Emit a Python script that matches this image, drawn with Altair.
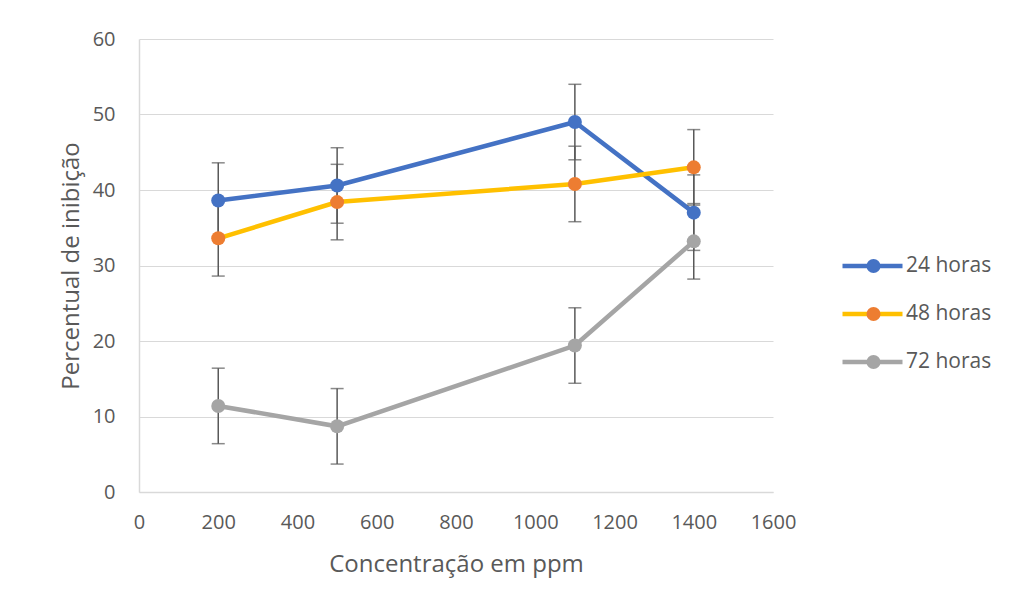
import altair as alt
import pandas as pd

conc = [200, 500, 1100, 1400]
series_names = ["24 horas", "48 horas", "72 horas"]
v24 = [38.6, 40.6, 49.0, 37.0]
v48 = [33.6, 38.4, 40.8, 43.0]
v72 = [11.4, 8.7, 19.4, 33.2]
e24 = [5, 5, 5, 5]
e48 = [5, 5, 5, 5]
e72 = [5, 5, 5, 5]
line_colors = ["#4472C4", "#FFC000", "#A5A5A5"]
marker_colors = ["#4472C4", "#ED7D31", "#A5A5A5"]

rows = []
for name, vals, errs in zip(series_names, [v24, v48, v72], [e24, e48, e72]):
    for c, v, e in zip(conc, vals, errs):
        rows.append({"conc": c, "serie": name, "val": v, "lo": v - e, "hi": v + e})
df = pd.DataFrame(rows)

FONT = "Open Sans"
TXT = "#595959"

x = alt.X("conc:Q", title="Concentração em ppm",
          scale=alt.Scale(domain=[0, 1600], nice=False),
          axis=alt.Axis(values=list(range(0, 1601, 200)), format="d", grid=False, ticks=False,
                        labelFlush=False, labelPadding=20, titlePadding=20,
                        domainColor="#d9d9d9", domainWidth=1.5))
y_axis = alt.Axis(values=list(range(0, 61, 10)), format="d", grid=True, gridColor="#d9d9d9", ticks=False,
                  labelFlush=False, labelPadding=24, titlePadding=9,
                  domainColor="#d9d9d9", domainWidth=1.5)
yscale = alt.Scale(domain=[0, 60], nice=False)

base = alt.Chart(df)

lines = base.mark_line(strokeWidth=4.5).encode(
    x=x,
    y=alt.Y("val:Q", title="Percentual de inibição", scale=yscale, axis=y_axis),
    color=alt.Color("serie:N", scale=alt.Scale(domain=series_names, range=line_colors),
                    legend=alt.Legend(orient="none", legendX=701, legendY=217, title=None,
                                      symbolType="stroke", symbolSize=3600, symbolStrokeWidth=4.5,
                                      clipHeight=20, rowPadding=27, labelFontSize=21, labelFont=FONT,
                                      labelColor=TXT, labelOffset=1, padding=0)),
)

rules = base.mark_rule(color="#595959", strokeWidth=1.5).encode(
    x="conc:Q", y=alt.Y("lo:Q", scale=yscale), y2="hi:Q")
tick_lo = base.mark_tick(orient="horizontal", size=13, thickness=1.5, color="#595959").encode(
    x="conc:Q", y=alt.Y("lo:Q", scale=yscale))
tick_hi = base.mark_tick(orient="horizontal", size=13, thickness=1.5, color="#595959").encode(
    x="conc:Q", y=alt.Y("hi:Q", scale=yscale))

points = base.mark_circle(size=196, opacity=1).encode(
    x="conc:Q",
    y=alt.Y("val:Q", scale=yscale),
    fill=alt.Fill("serie:N", scale=alt.Scale(domain=series_names, range=marker_colors),
                  legend=alt.Legend(orient="none", legendX=724, legendY=217, title=None,
                                    symbolType="circle", symbolSize=196, symbolStrokeWidth=0,
                                    symbolOpacity=1,
                                    clipHeight=20, rowPadding=27, labelFontSize=21, labelFont=FONT,
                                    labelExpr="''", labelOffset=0, padding=0)),
)

chart = alt.layer(lines, rules, tick_lo, tick_hi, points).resolve_scale(
    color="independent", fill="independent"
).properties(
    width=634, height=453,
    background="white",
    autosize=alt.AutoSizeParams(type="none"),
    padding={"left": 139, "top": 39, "right": 252, "bottom": 118},
).configure_view(stroke=None).configure_axis(
    labelFont=FONT, labelFontSize=20, labelColor=TXT,
    titleFont=FONT, titleFontSize=24, titleColor=TXT, titleFontWeight="normal",
)

chart.save("out.html", embed_options={"renderer": "svg", "actions": False})
